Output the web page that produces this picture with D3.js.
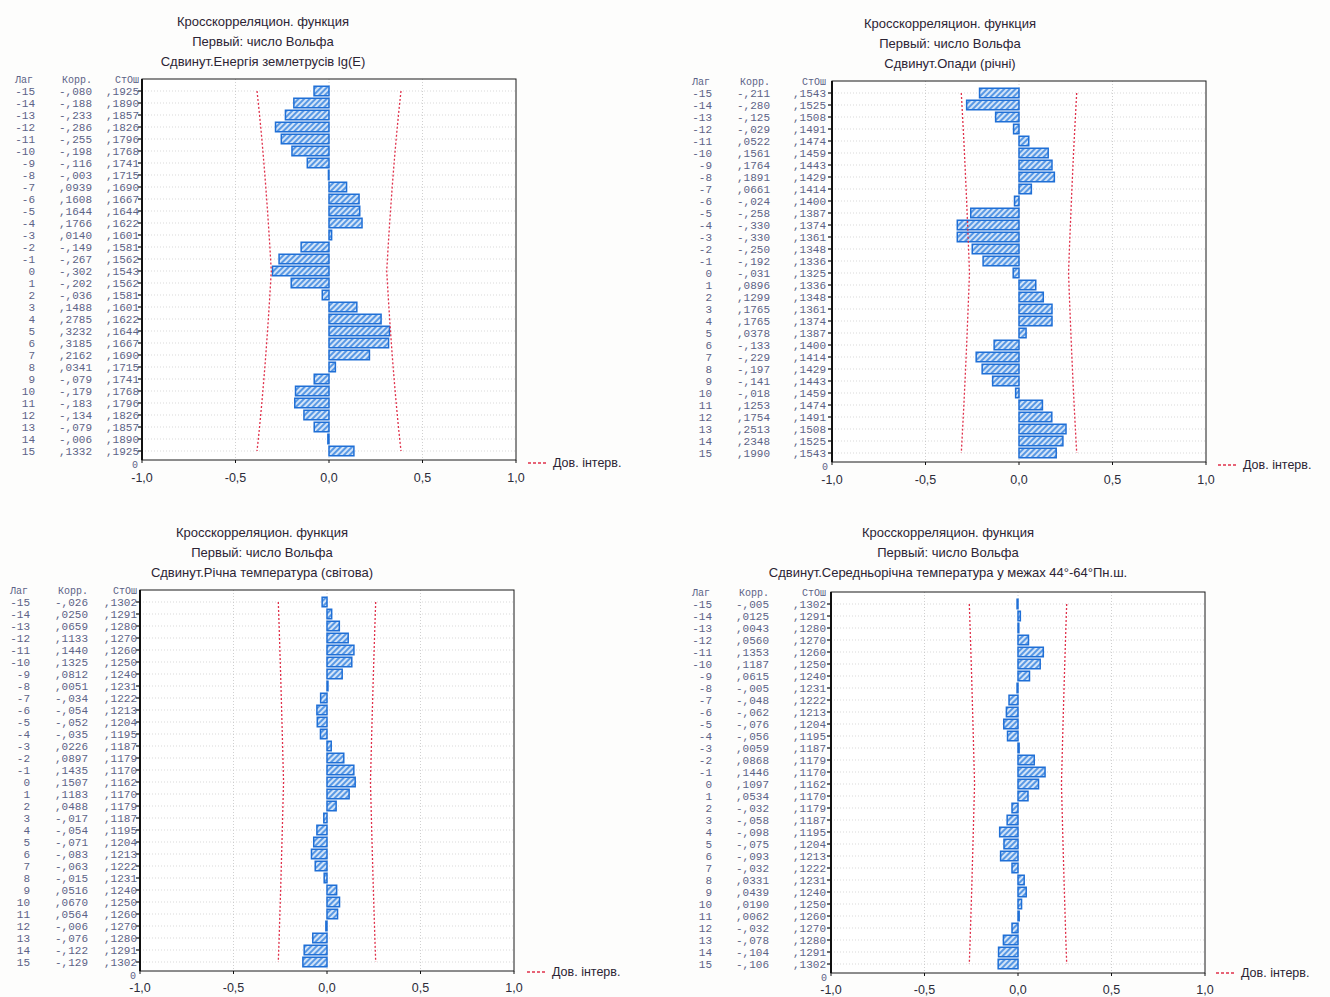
<!DOCTYPE html>
<html>
<head>
<meta charset="utf-8">
<script src="https://cdn.jsdelivr.net/npm/d3@7"></script>
<style>
  body { margin: 0; background: #fdfdfc; }
  svg { display: block; }
</style>
</head>
<body>
<svg id="chart" width="1330" height="997"></svg>
<script>
// ---- data ----
const lags = [-15, -14, -13, -12, -11, -10, -9, -8, -7, -6, -5, -4, -3, -2, -1, 0,
              1, 2, 3, 4, 5, 6, 7, 8, 9, 10, 11, 12, 13, 14, 15];

const titleLine1 = "Кросскорреляцион. функция";
const titleLine2 = "Первый: число Вольфа";
const shiftedTitles = [
  "Сдвинут.Енергія землетрусів lg(E)",
  "Сдвинут.Опади (річні)",
  "Сдвинут.Річна температура (світова)",
  "Сдвинут.Середньорічна температура у межах 44°-64°Пн.ш."
];
const tableHeaders = ["Лаг", "Корр.", "СтОш"];
const xTickValues = [-1, -0.5, 0, 0.5, 1];
const xTickLabels = ["-1,0", "-0,5", "0,0", "0,5", "1,0"];
const legendLabel = "Дов. інтерв.";

// Energy of earthquakes lg(E)
const corrEnergy = [-0.080, -0.188, -0.233, -0.286, -0.255, -0.198, -0.116, -0.003,
  0.0939, 0.1608, 0.1644, 0.1766, 0.0140, -0.149, -0.267, -0.302,
  -0.202, -0.036, 0.1488, 0.2785, 0.3232, 0.3185, 0.2162, 0.0341,
  -0.079, -0.179, -0.183, -0.134, -0.079, -0.006, 0.1332];
const seEnergy = [0.1925, 0.1890, 0.1857, 0.1826, 0.1796, 0.1768, 0.1741, 0.1715,
  0.1690, 0.1667, 0.1644, 0.1622, 0.1601, 0.1581, 0.1562, 0.1543,
  0.1562, 0.1581, 0.1601, 0.1622, 0.1644, 0.1667, 0.1690, 0.1715,
  0.1741, 0.1768, 0.1796, 0.1826, 0.1857, 0.1890, 0.1925];

// Annual precipitation
const corrPrecip = [-0.211, -0.280, -0.125, -0.029, 0.0522, 0.1561, 0.1764, 0.1891,
  0.0661, -0.024, -0.258, -0.330, -0.330, -0.250, -0.192, -0.031,
  0.0896, 0.1299, 0.1765, 0.1765, 0.0378, -0.133, -0.229, -0.197,
  -0.141, -0.018, 0.1253, 0.1754, 0.2513, 0.2348, 0.1990];
const sePrecip = [0.1543, 0.1525, 0.1508, 0.1491, 0.1474, 0.1459, 0.1443, 0.1429,
  0.1414, 0.1400, 0.1387, 0.1374, 0.1361, 0.1348, 0.1336, 0.1325,
  0.1336, 0.1348, 0.1361, 0.1374, 0.1387, 0.1400, 0.1414, 0.1429,
  0.1443, 0.1459, 0.1474, 0.1491, 0.1508, 0.1525, 0.1543];

// Global annual temperature
const corrGlobalTemp = [-0.026, 0.0250, 0.0659, 0.1133, 0.1440, 0.1325, 0.0812, 0.0051,
  -0.034, -0.054, -0.052, -0.035, 0.0226, 0.0897, 0.1435, 0.1507,
  0.1183, 0.0488, -0.017, -0.054, -0.071, -0.083, -0.063, -0.015,
  0.0516, 0.0670, 0.0564, -0.006, -0.076, -0.122, -0.129];
const seGlobalTemp = [0.1302, 0.1291, 0.1280, 0.1270, 0.1260, 0.1250, 0.1240, 0.1231,
  0.1222, 0.1213, 0.1204, 0.1195, 0.1187, 0.1179, 0.1170, 0.1162,
  0.1170, 0.1179, 0.1187, 0.1195, 0.1204, 0.1213, 0.1222, 0.1231,
  0.1240, 0.1250, 0.1260, 0.1270, 0.1280, 0.1291, 0.1302];

// Mean annual temperature, 44°-64° N
const corrZoneTemp = [-0.005, 0.0125, 0.0043, 0.0560, 0.1353, 0.1187, 0.0615, -0.005,
  -0.048, -0.062, -0.076, -0.056, 0.0059, 0.0868, 0.1446, 0.1097,
  0.0534, -0.032, -0.058, -0.098, -0.075, -0.093, -0.032, 0.0331,
  0.0439, 0.0190, 0.0062, -0.032, -0.078, -0.104, -0.106];
const seZoneTemp = [0.1302, 0.1291, 0.1280, 0.1270, 0.1260, 0.1250, 0.1240, 0.1231,
  0.1222, 0.1213, 0.1204, 0.1195, 0.1187, 0.1179, 0.1170, 0.1162,
  0.1170, 0.1179, 0.1187, 0.1195, 0.1204, 0.1213, 0.1222, 0.1231,
  0.1240, 0.1250, 0.1260, 0.1270, 0.1280, 0.1291, 0.1302];

// ---- layout of the four plots ----
const panels = [
  { sub: shiftedTitles[0], corr: corrEnergy, se: seEnergy,
    x0: 142, x1: 516, top: 79, bottom: 460, titleCx: 263, titleY: 26,
    cols: [-107, -50, -3], tickY: 482, legendX: 528, legendY: 467 },
  { sub: shiftedTitles[1], corr: corrPrecip, se: sePrecip,
    x0: 832, x1: 1206, top: 81, bottom: 462, titleCx: 950, titleY: 28,
    cols: [-120, -62, -6], tickY: 484, legendX: 1218, legendY: 469 },
  { sub: shiftedTitles[2], corr: corrGlobalTemp, se: seGlobalTemp,
    x0: 140, x1: 514, top: 590, bottom: 971, titleCx: 262, titleY: 537,
    cols: [-110, -52, -3], tickY: 992, legendX: 527, legendY: 976 },
  { sub: shiftedTitles[3], corr: corrZoneTemp, se: seZoneTemp,
    x0: 831, x1: 1205, top: 592, bottom: 973, titleCx: 948, titleY: 537,
    cols: [-119, -62, -5], tickY: 994, legendX: 1216, legendY: 977 }
];

const svg = d3.select("#chart");

// hatched fill used by the bars
const defs = svg.append("defs");
const pat = defs.append("pattern")
  .attr("id", "hatch").attr("patternUnits", "userSpaceOnUse")
  .attr("width", 4).attr("height", 4)
  .attr("patternTransform", "rotate(45)");
pat.append("rect").attr("width", 4).attr("height", 4).attr("fill", "#d3e4f8");
pat.append("line").attr("x1", 1).attr("y1", 0).attr("x2", 1).attr("y2", 4)
  .attr("stroke", "#4a90e2").attr("stroke-width", 1.8);

const fmtCorr = v => v < 0
  ? "-," + String(Math.round(-v * 1000)).padStart(3, "0")
  : "," + String(Math.round(v * 10000)).padStart(4, "0");
const fmtSe = v => "," + String(Math.round(v * 10000)).padStart(4, "0");

const sansFont = "'Liberation Sans', Arial, sans-serif";
const monoFont = "'Liberation Mono', 'DejaVu Sans Mono', monospace";
const tableColor = "#5c6286";

panels.forEach(p => {
  const g = svg.append("g");
  const x = d3.scaleLinear().domain([-1, 1]).range([p.x0, p.x1]);
  const y = d3.scaleLinear().domain([-16, 15.75]).range([p.top, p.bottom]);
  const rows = lags.map((lag, i) => ({ lag, r: p.corr[i], se: p.se[i] }));

  // titles
  g.selectAll("text.title")
    .data([titleLine1, titleLine2, p.sub])
    .join("text")
    .attr("x", p.titleCx)
    .attr("y", (d, i) => p.titleY + i * 20)
    .attr("text-anchor", "middle")
    .attr("font-family", sansFont)
    .attr("font-size", 13)
    .attr("fill", "#2c2434")
    .text(d => d);

  // plot background
  g.append("rect")
    .attr("x", p.x0).attr("y", p.top)
    .attr("width", p.x1 - p.x0).attr("height", p.bottom - p.top)
    .attr("fill", "#ffffff");

  // horizontal grid at every lag
  g.selectAll("line.hgrid").data(rows).join("line")
    .attr("x1", p.x0).attr("x2", p.x1)
    .attr("y1", d => y(d.lag)).attr("y2", d => y(d.lag))
    .attr("stroke", "#cfcfcf").attr("stroke-width", 0.8)
    .attr("stroke-dasharray", "1,2");

  // vertical grid
  g.selectAll("line.vgrid").data([-0.5, 0, 0.5]).join("line")
    .attr("x1", d => x(d)).attr("x2", d => x(d))
    .attr("y1", p.top).attr("y2", p.bottom)
    .attr("stroke", "#c4c4c4").attr("stroke-width", 0.8)
    .attr("stroke-dasharray", "1,2");

  // bars
  const barH = 9.5;
  g.selectAll("rect.bar").data(rows).join("rect")
    .attr("x", d => Math.min(x(0), x(d.r)))
    .attr("y", d => y(d.lag) - barH / 2)
    .attr("width", d => Math.abs(x(d.r) - x(0)))
    .attr("height", barH)
    .attr("fill", "url(#hatch)")
    .attr("stroke", "#1f6fd6")
    .attr("stroke-width", 1.5);

  // confidence limits: ±2 standard errors
  const confLine = sign => d3.line()
    .x(d => x(sign * 2 * d.se))
    .y(d => y(d.lag));
  [-1, 1].forEach(s => {
    g.append("path")
      .datum(rows)
      .attr("d", confLine(s))
      .attr("fill", "none")
      .attr("stroke", "#e0304a")
      .attr("stroke-width", 1.3)
      .attr("stroke-dasharray", "2,2");
  });

  // frame
  g.append("rect")
    .attr("x", p.x0).attr("y", p.top)
    .attr("width", p.x1 - p.x0).attr("height", p.bottom - p.top)
    .attr("fill", "none").attr("stroke", "#1a1a1a").attr("stroke-width", 1);
  g.append("line")
    .attr("x1", p.x0).attr("x2", p.x0).attr("y1", p.top).attr("y2", p.bottom)
    .attr("stroke", "#111").attr("stroke-width", 2);

  // lag ticks on the left axis
  g.selectAll("line.ytick").data(rows).join("line")
    .attr("x1", p.x0 - 4).attr("x2", p.x0)
    .attr("y1", d => y(d.lag)).attr("y2", d => y(d.lag))
    .attr("stroke", "#111").attr("stroke-width", 1.2);

  // x ticks and labels
  g.selectAll("line.xtick").data(xTickValues).join("line")
    .attr("x1", d => x(d)).attr("x2", d => x(d))
    .attr("y1", p.bottom).attr("y2", p.bottom + 3)
    .attr("stroke", "#111");
  g.selectAll("text.xlab").data(xTickValues).join("text")
    .attr("x", d => x(d)).attr("y", p.tickY)
    .attr("text-anchor", "middle")
    .attr("font-family", sansFont).attr("font-size", 12.5)
    .attr("fill", "#2c2c3a")
    .text((d, i) => xTickLabels[i]);

  // value table
  const colX = p.cols.map(c => p.x0 + c);
  g.selectAll("text.head").data(tableHeaders).join("text")
    .attr("x", (d, i) => i === 0 ? colX[0] - 20 : colX[i])
    .attr("y", p.top + 4)
    .attr("text-anchor", (d, i) => i === 0 ? "start" : "end")
    .attr("font-family", monoFont).attr("font-size", 10)
    .attr("fill", tableColor)
    .text(d => d);
  const rowText = (accessor, ci) =>
    g.selectAll("text.col" + ci).data(rows).join("text")
      .attr("x", colX[ci])
      .attr("y", d => y(d.lag) + 4)
      .attr("text-anchor", "end")
      .attr("font-family", monoFont).attr("font-size", 11)
      .attr("fill", tableColor)
      .text(accessor);
  rowText(d => String(d.lag), 0);
  rowText(d => fmtCorr(d.r), 1);
  rowText(d => fmtSe(d.se), 2);
  g.append("text")
    .attr("x", p.x0 - 4).attr("y", p.bottom + 8)
    .attr("text-anchor", "end")
    .attr("font-family", monoFont).attr("font-size", 10)
    .attr("fill", tableColor)
    .text("0");

  // legend
  g.append("line")
    .attr("x1", p.legendX).attr("x2", p.legendX + 20)
    .attr("y1", p.legendY - 4).attr("y2", p.legendY - 4)
    .attr("stroke", "#e0304a").attr("stroke-width", 1.3)
    .attr("stroke-dasharray", "3,2");
  g.append("text")
    .attr("x", p.legendX + 25).attr("y", p.legendY)
    .attr("font-family", sansFont).attr("font-size", 12.5)
    .attr("fill", "#2c2434")
    .text(legendLabel);
});
</script>
</body>
</html>
